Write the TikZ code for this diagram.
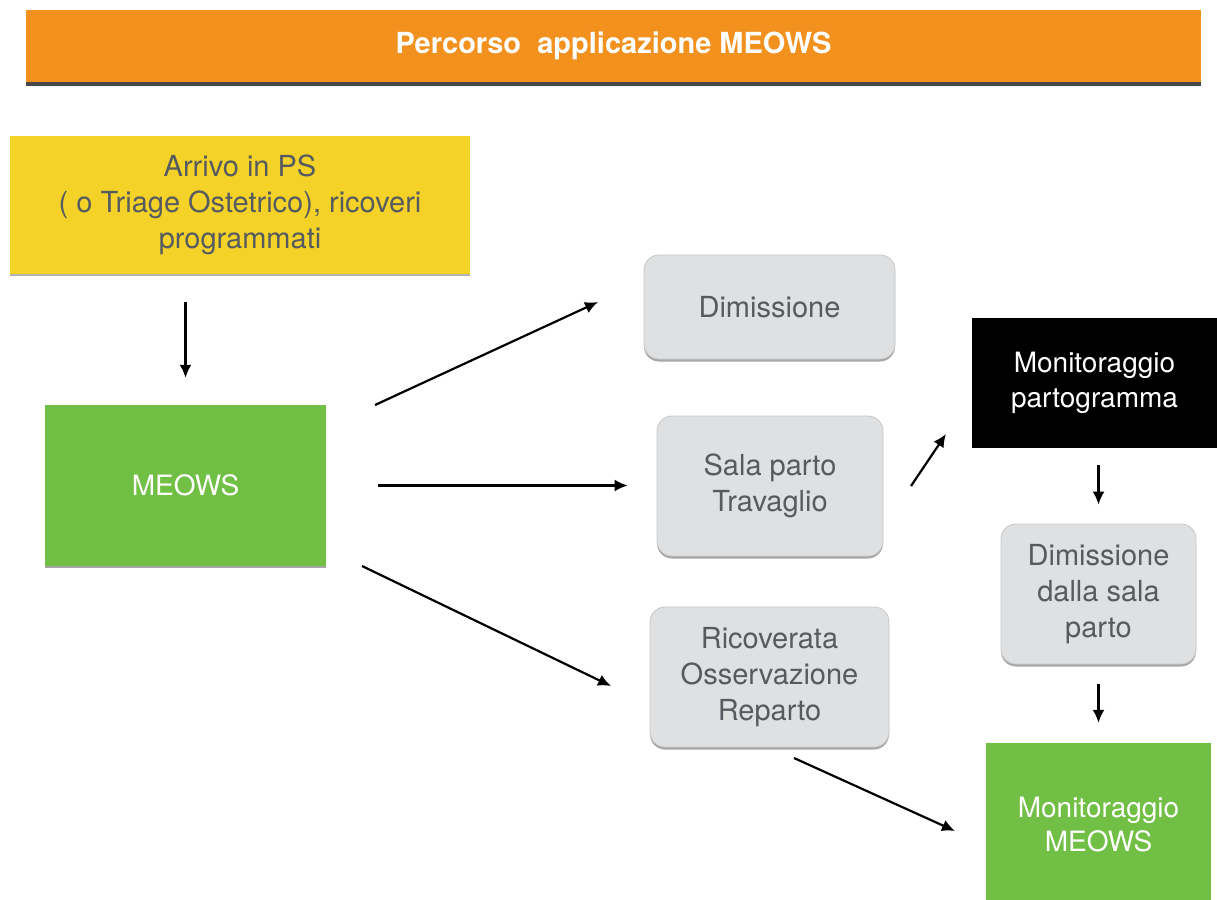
\documentclass[tikz,border=0pt]{standalone}
\usepackage{fontspec}
\setmainfont{TeX Gyre Heros}
\usetikzlibrary{arrows.meta, shadows}
\definecolor{bar_orange}{HTML}{F2911D}
\definecolor{box_yellow}{HTML}{F4D228}
\definecolor{box_green}{HTML}{71BF44}
\definecolor{box_gray}{HTML}{DFE0E2}
\definecolor{txt_gray}{HTML}{565B60}
\tikzset{
  title_bar/.style={rectangle, fill=bar_orange, inner sep=0pt, minimum width=1175pt, minimum height=72pt, text=white, font=\fontsize{29}{35}\selectfont\bfseries, drop shadow={shadow xshift=0pt, shadow yshift=-3.5pt, fill=black!80, opacity=0.9}},
  start_box/.style={rectangle, fill=box_yellow, inner sep=0pt, align=center, text=txt_gray, font=\fontsize{29}{36}\selectfont, drop shadow={shadow xshift=0pt, shadow yshift=-2pt, opacity=0.6}},
  green_box/.style={rectangle, fill=box_green, inner sep=0pt, align=center, text=white, font=\fontsize{28}{34}\selectfont, drop shadow={shadow xshift=0pt, shadow yshift=-2pt, opacity=0.7}},
  dark_box/.style={rectangle, fill=black, inner sep=0pt, align=center, text=white, font=\fontsize{28}{35}\selectfont},
  step_box/.style={rectangle, rounded corners=15pt, fill=box_gray, draw=black!22, line width=0.8pt, inner sep=0pt, align=center, text=txt_gray, font=\fontsize{29}{36}\selectfont, drop shadow={shadow xshift=0pt, shadow yshift=-2.5pt, opacity=0.7}},
  arrow/.style={-{Latex[length=13pt, width=12pt]}, line width=2.2pt, black}
}

\begin{document}
\begin{tikzpicture}[x=1pt, y=-1pt]
  \useasboundingbox (0,0) rectangle (1217,899);

  % --- title ---
  \node[title_bar] (title) at (613.5,46) {Percorso\ \ applicazione MEOWS};

  % --- left column ---
  \node[start_box, minimum width=460pt, minimum height=138pt] (arrivo) at (240,205) {Arrivo in PS\\( o Triage Ostetrico), ricoveri\\programmati};
  \node[green_box, minimum width=281pt, minimum height=161pt] (meows) at (185.5,485.5) {MEOWS};

  % --- middle column ---
  \node[step_box, minimum width=251pt, minimum height=104pt] (dimissione) at (769.5,307) {Dimissione};
  \node[step_box, minimum width=226pt, minimum height=140pt] (sala) at (770,486) {Sala parto\\Travaglio};
  \node[step_box, minimum width=239pt, minimum height=140pt] (ricoverata) at (769.5,677) {Ricoverata\\Osservazione\\Reparto};

  % --- right column ---
  \node[dark_box, minimum width=245pt, minimum height=130pt] (partogramma) at (1094.5,383) {Monitoraggio\\partogramma};
  \node[step_box, minimum width=195pt, minimum height=140pt] (dimsala) at (1098.5,594) {Dimissione\\dalla sala\\parto};
  \node[green_box, minimum width=225pt, minimum height=164pt] (monmeows) at (1098.5,825) {Monitoraggio\\MEOWS};

  % free arrow ends (arrows stop short of the boxes)
  \coordinate (meowsUp) at (375,405);
  \coordinate (dimIn) at (598,302);
  \coordinate (meowsDown) at (362,566);
  \coordinate (ricIn) at (611,686);
  \coordinate (salaOut) at (911,486);
  \coordinate (partIn) at (946,434);
  \coordinate (ricOut) at (794,758);
  \coordinate (monIn) at (955,831);

  % --- arrows ---
  \draw[arrow, shorten <=28pt, shorten >=27pt] (meows.north |- arrivo.south) -- (meows.north);
  \draw[arrow] (meowsUp) -- (dimIn);
  \draw[arrow, shorten <=52pt, shorten >=29pt] (meows.east) -- (meows.east -| sala.west);
  \draw[arrow] (meowsDown) -- (ricIn);
  \draw[arrow] (salaOut) -- (partIn);
  \draw[arrow, shorten <=17pt, shorten >=19pt] (dimsala.north |- partogramma.south) -- (dimsala.north);
  \draw[arrow, shorten <=20pt, shorten >=20pt] (dimsala.south) -- (monmeows.north);
  \draw[arrow] (ricOut) -- (monIn);
\end{tikzpicture}
\end{document}
